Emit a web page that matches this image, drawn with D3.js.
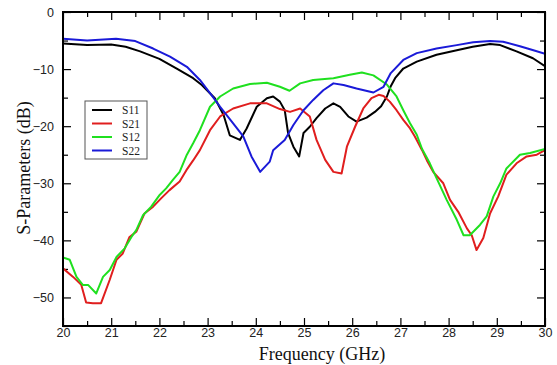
<!DOCTYPE html>
<html>
<head>
<meta charset="utf-8">
<script src="https://cdn.jsdelivr.net/npm/d3@7"></script>
<style>
  html, body { margin: 0; padding: 0; background: #fff; }
  svg { display: block; }
</style>
</head>
<body>
<div id="chart"></div>
<script>
// S-parameter curves (GHz, dB)
const s11Freq = [20.0, 20.5, 21.0, 21.3, 21.6, 22.0, 22.36, 22.7, 22.88, 23.15, 23.33, 23.46, 23.67, 23.81, 24.02, 24.23, 24.36, 24.5, 24.6, 24.67, 24.78, 24.9, 24.99, 25.12, 25.26, 25.44, 25.61, 25.75, 25.92, 26.09, 26.3, 26.47, 26.6, 26.72, 26.8, 26.89, 27.06, 27.34, 27.75, 28.17, 28.5, 28.86, 29.07, 29.41, 29.75, 30.0]
const s11Db = [-5.5, -5.8, -5.7, -6.1, -6.9, -8.2, -9.9, -11.6, -12.8, -15.1, -18.0, -21.6, -22.4, -20.4, -16.6, -15.1, -14.8, -15.7, -17.2, -21.2, -23.6, -25.3, -21.2, -20.1, -18.6, -16.9, -16.0, -16.6, -18.3, -19.2, -18.5, -17.5, -16.5, -14.8, -13.0, -11.6, -9.9, -8.7, -7.5, -6.7, -6.1, -5.6, -5.8, -6.9, -8.1, -9.5]

const s21Freq = [20.0, 20.21, 20.38, 20.48, 20.62, 20.79, 20.97, 21.11, 21.24, 21.38, 21.52, 21.69, 21.87, 22.04, 22.21, 22.42, 22.56, 22.7, 22.84, 23.05, 23.26, 23.53, 23.88, 24.23, 24.5, 24.71, 24.92, 25.12, 25.26, 25.44, 25.61, 25.78, 25.89, 26.06, 26.23, 26.4, 26.55, 26.65, 26.78, 26.92, 27.06, 27.2, 27.3, 27.45, 27.55, 27.68, 27.89, 28.03, 28.2, 28.38, 28.48, 28.58, 28.72, 28.86, 29.03, 29.2, 29.41, 29.62, 29.83, 30.0]
const s21Db = [-44.9, -46.4, -47.8, -50.9, -51.0, -51.0, -46.9, -43.4, -42.3, -39.4, -38.5, -35.3, -34.1, -32.6, -31.2, -29.7, -27.7, -26.0, -24.2, -20.7, -18.3, -16.9, -16.0, -16.0, -17.0, -17.5, -16.9, -18.3, -22.4, -25.9, -28.0, -28.3, -23.6, -20.1, -16.9, -15.1, -14.5, -14.7, -15.7, -17.2, -18.9, -20.4, -21.8, -24.2, -26.0, -28.0, -30.0, -32.9, -35.0, -37.9, -39.1, -41.7, -39.6, -35.3, -32.3, -28.5, -26.5, -25.3, -25.0, -24.2]

const s12Freq = [20.0, 20.14, 20.28, 20.41, 20.52, 20.69, 20.83, 20.97, 21.11, 21.28, 21.42, 21.52, 21.66, 21.83, 22.01, 22.14, 22.28, 22.42, 22.57, 22.7, 22.84, 23.05, 23.26, 23.53, 23.88, 24.23, 24.5, 24.7, 24.92, 25.19, 25.61, 25.95, 26.2, 26.44, 26.72, 26.92, 27.06, 27.2, 27.34, 27.45, 27.61, 27.75, 27.96, 28.17, 28.31, 28.44, 28.65, 28.79, 28.93, 29.07, 29.2, 29.48, 29.69, 30.0]
const s12Db = [-43.0, -43.4, -46.4, -47.8, -47.8, -49.3, -46.4, -45.2, -42.9, -41.4, -39.4, -38.2, -35.6, -34.1, -32.0, -30.9, -29.4, -28.0, -25.0, -23.0, -20.7, -16.6, -14.8, -13.4, -12.6, -12.4, -13.1, -13.8, -12.5, -11.9, -11.6, -11.0, -10.6, -11.1, -12.7, -14.8, -17.2, -19.5, -21.5, -24.0, -26.5, -29.1, -32.9, -36.4, -39.1, -39.1, -37.3, -35.8, -32.3, -30.0, -27.4, -25.0, -24.7, -24.0]

const s22Freq = [20.0, 20.5, 21.1, 21.5, 21.87, 22.22, 22.57, 22.84, 23.05, 23.26, 23.53, 23.74, 23.91, 24.09, 24.29, 24.36, 24.6, 24.78, 24.99, 25.19, 25.4, 25.61, 25.82, 26.09, 26.44, 26.65, 26.8, 27.06, 27.34, 27.75, 28.17, 28.51, 28.86, 29.13, 29.48, 29.76, 30.0]
const s22Db = [-4.7, -5.0, -4.7, -5.1, -6.4, -7.8, -9.6, -11.9, -14.2, -16.6, -19.5, -21.8, -25.3, -28.0, -26.2, -24.2, -22.4, -19.8, -17.2, -15.4, -13.7, -12.5, -12.8, -13.4, -14.1, -13.1, -10.7, -8.4, -7.2, -6.4, -5.8, -5.3, -5.1, -5.2, -6.0, -6.7, -7.3]

const seriesNames = ['S11', 'S21', 'S12', 'S22']
const seriesColors = ['#000000', '#e01e1e', '#1fe01f', '#1a1ad8']
const seriesFreq = [s11Freq, s21Freq, s12Freq, s22Freq]
const seriesDb = [s11Db, s21Db, s12Db, s22Db]

const xTicks = [20, 21, 22, 23, 24, 25, 26, 27, 28, 29, 30]
const yTicks = [0, -10, -20, -30, -40, -50]

const width = 557
const height = 365
const margin = { left: 63, right: 12, top: 12, bottom: 39 }
const innerW = width - margin.left - margin.right
const innerH = height - margin.top - margin.bottom

const x = d3.scaleLinear().domain([20, 30]).range([margin.left, margin.left + innerW])
const y = d3.scaleLinear().domain([-55, 0]).range([margin.top + innerH, margin.top])

const svg = d3.select('#chart').append('svg')
    .attr('width', width)
    .attr('height', height)

svg.append('defs').append('clipPath').attr('id', 'plot-clip')
    .append('rect')
    .attr('x', margin.left).attr('y', margin.top)
    .attr('width', innerW).attr('height', innerH)

const tickFont = '"Liberation Sans", Arial, sans-serif'
const titleFont = '"Liberation Serif", "Times New Roman", serif'

// minor ticks every half unit, no labels
const xMinor = d3.range(20, 30.01, 0.5).filter(v => v % 1 !== 0)
const yMinor = d3.range(-55, 0.01, 5).filter(v => v % 10 !== 0)

const styleAxis = g => {
    g.select('.domain').remove()
    g.selectAll('line').attr('stroke', '#000').attr('stroke-width', 1.2)
    g.selectAll('text').attr('font-family', tickFont).attr('font-size', 12.5).attr('fill', '#222')
}

// bottom
svg.append('g').attr('transform', `translate(0,${margin.top + innerH})`)
    .call(d3.axisBottom(x).tickValues(xTicks).tickFormat(d3.format('d')).tickSizeInner(-8).tickSizeOuter(0).tickPadding(12))
    .call(styleAxis)
    .call(g => g.selectAll('text').attr('dy', '0.71em').attr('y', 2))
svg.append('g').attr('transform', `translate(0,${margin.top + innerH})`)
    .call(d3.axisBottom(x).tickValues(xMinor).tickFormat('').tickSizeInner(-5).tickSizeOuter(0))
    .call(styleAxis)
// top
svg.append('g').attr('transform', `translate(0,${margin.top})`)
    .call(d3.axisTop(x).tickValues(xTicks).tickFormat('').tickSizeInner(-8).tickSizeOuter(0))
    .call(styleAxis)
svg.append('g').attr('transform', `translate(0,${margin.top})`)
    .call(d3.axisTop(x).tickValues(xMinor).tickFormat('').tickSizeInner(-5).tickSizeOuter(0))
    .call(styleAxis)
// left
svg.append('g').attr('transform', `translate(${margin.left},0)`)
    .call(d3.axisLeft(y).tickValues(yTicks).tickFormat(d3.format('d')).tickSizeInner(-8).tickSizeOuter(0).tickPadding(9))
    .call(styleAxis)
    .call(g => g.selectAll('text').attr('x', -9))
svg.append('g').attr('transform', `translate(${margin.left},0)`)
    .call(d3.axisLeft(y).tickValues(yMinor).tickFormat('').tickSizeInner(-5).tickSizeOuter(0))
    .call(styleAxis)
// right
svg.append('g').attr('transform', `translate(${margin.left + innerW},0)`)
    .call(d3.axisRight(y).tickValues(yTicks).tickFormat('').tickSizeInner(-8).tickSizeOuter(0))
    .call(styleAxis)
svg.append('g').attr('transform', `translate(${margin.left + innerW},0)`)
    .call(d3.axisRight(y).tickValues(yMinor).tickFormat('').tickSizeInner(-5).tickSizeOuter(0))
    .call(styleAxis)

// curves
const line = d3.line()
    .x(d => x(d[0]))
    .y(d => y(d[1]))

const plot = svg.append('g').attr('clip-path', 'url(#plot-clip)')
seriesNames.forEach((name, i) => {
    const pts = seriesFreq[i].map((f, j) => [f, seriesDb[i][j]])
    plot.append('path')
        .datum(pts)
        .attr('fill', 'none')
        .attr('stroke', seriesColors[i])
        .attr('stroke-width', 2)
        .attr('stroke-linejoin', 'round')
        .attr('d', line)
})

// frame
svg.append('rect')
    .attr('x', margin.left).attr('y', margin.top)
    .attr('width', innerW).attr('height', innerH)
    .attr('fill', 'none')
    .attr('stroke', '#000')
    .attr('stroke-width', 2)

// legend
const legend = svg.append('g').attr('transform', 'translate(85,101)')
legend.append('rect')
    .attr('width', 62).attr('height', 58)
    .attr('fill', '#fff')
    .attr('stroke', '#555')
    .attr('stroke-width', 1)
seriesNames.forEach((name, i) => {
    const row = legend.append('g').attr('transform', `translate(0,${9 + i * 13.5})`)
    row.append('line')
        .attr('x1', 7).attr('x2', 27)
        .attr('stroke', seriesColors[i])
        .attr('stroke-width', 2)
    row.append('text')
        .attr('x', 37).attr('y', 4)
        .attr('font-family', titleFont)
        .attr('font-size', 11.5)
        .attr('fill', '#222')
        .text(name)
})

// axis titles
svg.append('text')
    .attr('x', 322).attr('y', 360)
    .attr('text-anchor', 'middle')
    .attr('font-family', titleFont)
    .attr('font-size', 18)
    .attr('fill', '#111')
    .text('Frequency (GHz)')

svg.append('text')
    .attr('transform', `translate(30,168) rotate(-90)`)
    .attr('text-anchor', 'middle')
    .attr('font-family', titleFont)
    .attr('font-size', 18)
    .attr('fill', '#111')
    .text('S-Parameters (dB)')
</script>
</body>
</html>
